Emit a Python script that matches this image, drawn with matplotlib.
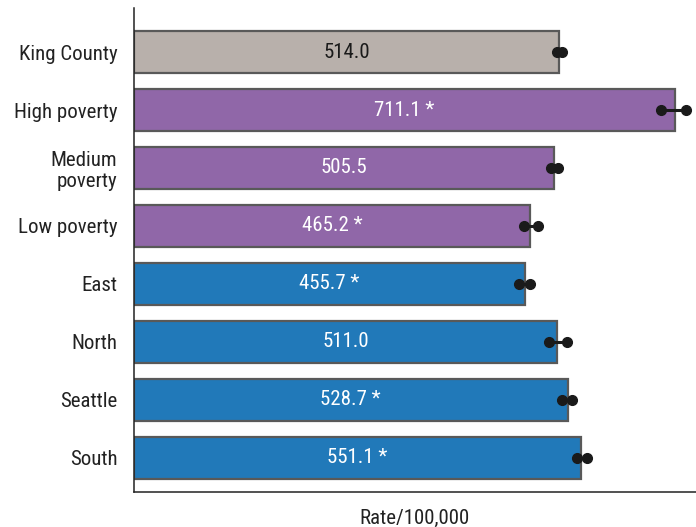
import matplotlib.pyplot as plt

plt.rcParams['font.family'] = ['Roboto Condensed', 'Archivo Narrow', 'DejaVu Sans']

categories = ['King County', 'High poverty', 'Medium\npoverty', 'Low poverty',
              'East', 'North', 'Seattle', 'South']
rates = [514.0, 711.1, 505.5, 465.2, 455.7, 511.0, 528.7, 551.1]
ci_low = [510.6, 686.8, 500.4, 454.5, 446.6, 497.6, 518.6, 544.1]
ci_high = [519.1, 729.3, 512.3, 478.3, 464.8, 528.2, 535.6, 561.1]
signif = [False, True, False, True, True, False, True, True]
colors = ['#b8b0ab', '#9067a8', '#9067a8', '#9067a8',
          '#2179b9', '#2179b9', '#2179b9', '#2179b9']

x_start = -208
x_end = 747

fig = plt.figure(figsize=(6.96, 5.27), dpi=100)
ax = fig.add_axes([0.1925, 0.0664, 0.8075, 0.9184])

ys = list(range(len(categories)))
for i in ys:
    ax.barh(i, rates[i] - x_start, left=x_start, height=0.72, color=colors[i],
            edgecolor='#595959', linewidth=1.6, zorder=2)
    lab = f'{rates[i]:.1f}' + (' *' if signif[i] else '')
    tc = '#1a1a1a' if i == 0 else 'white'
    ax.text((x_start + rates[i]) / 2, i, lab, ha='center', va='center',
            color=tc, fontsize=15, zorder=3)
    ax.plot([ci_low[i], ci_high[i]], [i, i], '-o', color='#1a1a1a',
            lw=2.2, markersize=7, zorder=4)

ax.set_xlim(x_start, x_end)
ax.set_ylim(len(categories) - 1 + 0.59, -0.76)
ax.set_yticks(ys)
ax.set_yticklabels(categories, fontsize=15, color='#222222', linespacing=1.15)
ax.set_xticks([])
ax.tick_params(axis='y', length=0, pad=12)
ax.spines['top'].set_visible(False)
ax.spines['right'].set_visible(False)
for s in ['left', 'bottom']:
    ax.spines[s].set_color('#222222')
    ax.spines[s].set_linewidth(1.1)
ax.set_xlabel('Rate/100,000', fontsize=15, color='#222222', labelpad=12)

fig.savefig('out.png', dpi=100)
